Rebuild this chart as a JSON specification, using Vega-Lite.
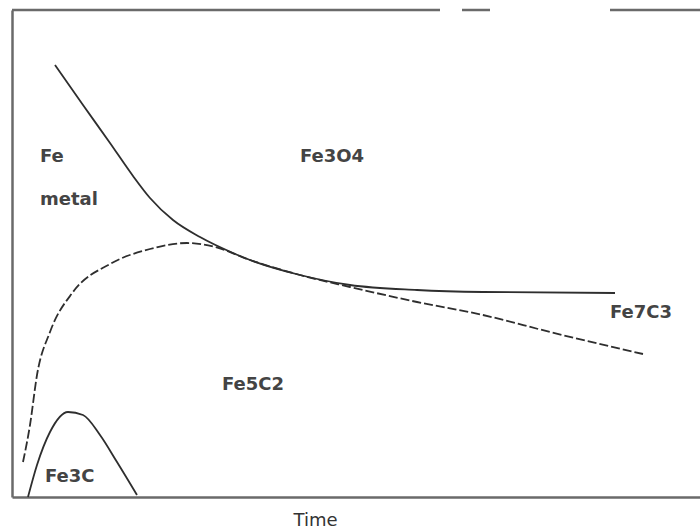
{
  "$schema": "https://vega.github.io/schema/vega-lite/v6.json",
  "width": 688,
  "height": 487,
  "autosize": "none",
  "padding": {"left": 12, "top": 10, "right": 0, "bottom": 33},
  "background": "white",
  "config": {"view": {"stroke": null}},
  "datasets": {
    "curves": [
      {"phase": "Fe metal", "t": 43, "v": 432},
      {"phase": "Fe metal", "t": 71, "v": 392},
      {"phase": "Fe metal", "t": 98, "v": 354},
      {"phase": "Fe metal", "t": 121, "v": 321},
      {"phase": "Fe metal", "t": 138, "v": 299},
      {"phase": "Fe metal", "t": 161, "v": 277},
      {"phase": "Fe metal", "t": 188, "v": 260},
      {"phase": "Fe metal", "t": 221, "v": 244},
      {"phase": "Fe metal", "t": 238, "v": 237},
      {"phase": "Fe metal", "t": 288, "v": 222},
      {"phase": "Fe metal", "t": 338, "v": 212},
      {"phase": "Fe metal", "t": 405, "v": 207},
      {"phase": "Fe metal", "t": 471, "v": 205},
      {"phase": "Fe metal", "t": 603, "v": 204},
      {"phase": "Fe3C", "t": 16, "v": 0},
      {"phase": "Fe3C", "t": 25, "v": 32},
      {"phase": "Fe3C", "t": 38, "v": 65},
      {"phase": "Fe3C", "t": 56, "v": 85},
      {"phase": "Fe3C", "t": 71, "v": 82},
      {"phase": "Fe3C", "t": 88, "v": 62},
      {"phase": "Fe3C", "t": 105, "v": 35},
      {"phase": "Fe3C", "t": 125, "v": 2}
    ],
    "dashed": [
      {"phase": "Fe5C2", "t": 11, "v": 35},
      {"phase": "Fe5C2", "t": 18, "v": 72},
      {"phase": "Fe5C2", "t": 25, "v": 122},
      {"phase": "Fe5C2", "t": 38, "v": 165},
      {"phase": "Fe5C2", "t": 61, "v": 205},
      {"phase": "Fe5C2", "t": 98, "v": 233},
      {"phase": "Fe5C2", "t": 138, "v": 248},
      {"phase": "Fe5C2", "t": 175, "v": 254},
      {"phase": "Fe5C2", "t": 203, "v": 250},
      {"phase": "Fe5C2", "t": 238, "v": 237},
      {"phase": "Fe5C2", "t": 288, "v": 222},
      {"phase": "Fe5C2", "t": 338, "v": 210},
      {"phase": "Fe5C2", "t": 405, "v": 195},
      {"phase": "Fe5C2", "t": 471, "v": 182},
      {"phase": "Fe5C2", "t": 538, "v": 165},
      {"phase": "Fe5C2", "t": 631, "v": 143}
    ],
    "labels": [
      {"label": "Fe", "t": 28, "v": 340},
      {"label": "metal", "t": 28, "v": 297},
      {"label": "Fe3O4", "t": 288, "v": 340},
      {"label": "Fe5C2", "t": 210, "v": 112},
      {"label": "Fe7C3", "t": 598, "v": 184},
      {"label": "Fe3C", "t": 33, "v": 20}
    ],
    "top": [
      {"t": 0, "t2": 428},
      {"t": 450, "t2": 478},
      {"t": 598, "t2": 688}
    ]
  },
  "layer": [
    {
      "data": {"name": "top"},
      "mark": {"type": "rule", "color": "#6a6a6a", "strokeWidth": 2.5},
      "encoding": {
        "x": {"field": "t", "type": "quantitative", "scale": {"domain": [0, 688], "nice": false, "zero": false},
          "axis": {"orient": "bottom", "title": "Time", "labels": false, "ticks": false, "grid": false,
            "domainColor": "#6a6a6a", "domainWidth": 2.5, "titleFont": "DejaVu Sans", "titleFontSize": 18,
            "titleFontWeight": "normal", "titleColor": "#333", "titleX": 303, "titleY": 23,
            "titleAlign": "center", "titleBaseline": "middle"}},
        "x2": {"field": "t2"},
        "y": {"datum": 487, "type": "quantitative", "scale": {"domain": [0, 487], "nice": false, "zero": false},
          "axis": {"orient": "left", "title": null, "labels": false, "ticks": false, "grid": false,
            "domainColor": "#6a6a6a", "domainWidth": 2.5}}
      }
    },
    {
      "data": {"name": "curves"},
      "mark": {"type": "line", "interpolate": "monotone", "color": "#2e2e2e", "strokeWidth": 1.8},
      "encoding": {
        "x": {"field": "t", "type": "quantitative"},
        "y": {"field": "v", "type": "quantitative"},
        "detail": {"field": "phase"}
      }
    },
    {
      "data": {"name": "dashed"},
      "mark": {"type": "line", "interpolate": "monotone", "color": "#2e2e2e", "strokeWidth": 1.8, "strokeDash": [9, 3]},
      "encoding": {
        "x": {"field": "t", "type": "quantitative"},
        "y": {"field": "v", "type": "quantitative"}
      }
    },
    {
      "data": {"name": "labels"},
      "mark": {"type": "text", "align": "left", "baseline": "middle", "font": "DejaVu Sans", "fontSize": 18, "fontWeight": "bold", "color": "#444"},
      "encoding": {
        "x": {"field": "t", "type": "quantitative"},
        "y": {"field": "v", "type": "quantitative"},
        "text": {"field": "label"}
      }
    }
  ]
}
